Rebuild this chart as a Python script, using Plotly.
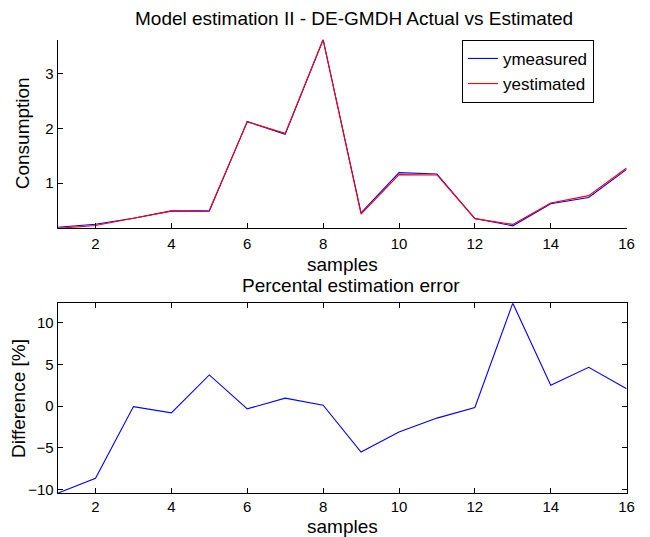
import plotly.graph_objects as go

OFF = 8            # page body margin of the exported html page
S = 650 / 658      # scale between page and photographed picture
W, H = 642, 529

samples = list(range(1, 17))
ymeasured = [0.19, 0.245, 0.355, 0.49, 0.485, 2.125, 1.89, 3.62, 0.455, 1.19,
             1.165, 0.35, 0.217, 0.62, 0.736, 1.25]
yestimated = [0.170, 0.224, 0.355, 0.486, 0.503, 2.118, 1.908, 3.624, 0.43, 1.153,
              1.148, 0.349, 0.244, 0.636, 0.77, 1.276]
error_pct = [-10.45, -8.65, -0.05, -0.8, 3.75, -0.32, 0.96, 0.12, -5.5, -3.1,
             -1.43, -0.16, 12.35, 2.5, 4.66, 2.1]

x_ticks = [2, 4, 6, 8, 10, 12, 14, 16]
y1_ticks = [1, 2, 3]
y2_ticks = [-10, -5, 0, 5, 10]

FONT = "Liberation Sans, Arial, Helvetica, sans-serif"


def px(x):
    return (x / S - OFF) / W


def py(y):
    return 1 - (y / S - OFF) / H


fig = go.Figure()
fig.add_trace(go.Scatter(x=samples, y=ymeasured, mode="lines", name="ymeasured",
                         line=dict(color="#0000ff", width=1.1), xaxis="x", yaxis="y"))
fig.add_trace(go.Scatter(x=samples, y=yestimated, mode="lines", name="yestimated",
                         line=dict(color="#ff0000", width=1.1), xaxis="x", yaxis="y"))
fig.add_trace(go.Scatter(x=samples, y=error_pct, mode="lines", showlegend=False,
                         line=dict(color="#0000ff", width=1.1), xaxis="x2", yaxis="y2"))

xdom = [px(57.5), px(626.7)]
common_axis = dict(showgrid=False, zeroline=False, showline=True, linecolor="black",
                   linewidth=1, ticks="inside", ticklen=5, tickcolor="black",
                   tickwidth=1, tickfont=dict(family=FONT, size=15, color="black"))

fig.update_layout(
    width=W, height=H,
    margin=dict(l=0, r=0, t=0, b=0),
    paper_bgcolor="white", plot_bgcolor="white",
    font=dict(family=FONT, color="black"),
    xaxis=dict(domain=xdom, anchor="y", range=[1, 16], tickvals=x_ticks,
               mirror=False, ticklabelstandoff=2, **common_axis),
    yaxis=dict(domain=[py(227.3), py(39.3)], anchor="x",
               range=[min(yestimated + ymeasured), max(yestimated + ymeasured)],
               tickvals=y1_ticks, mirror=False, **common_axis),
    xaxis2=dict(domain=xdom, anchor="y2", range=[1, 16], tickvals=x_ticks,
                mirror="ticks", ticklabelstandoff=0, **common_axis),
    yaxis2=dict(domain=[py(491), py(301.7)], anchor="x2",
                range=[min(error_pct), max(error_pct)],
                tickvals=y2_ticks, mirror="ticks", **common_axis),
    legend=dict(x=px(462), y=py(71), xanchor="left", yanchor="middle",
                bgcolor="white", bordercolor="black", borderwidth=1,
                font=dict(family=FONT, size=17, color="black"),
                tracegroupgap=0),
    showlegend=True,
)

annotations = [
    dict(text="Model estimation II - DE-GMDH Actual vs Estimated", x=px(354), y=py(18.3),
         size=19),
    dict(text="samples", x=px(342.5), y=py(263), size=19),
    dict(text="Percental estimation error", x=px(351), y=py(284), size=19),
    dict(text="samples", x=px(342.5), y=py(524), size=19),
    dict(text="Consumption", x=px(22.5), y=py(133), size=19, angle=-90),
    dict(text="Difference [%]", x=px(19), y=py(397), size=19, angle=-90),
]
for a in annotations:
    fig.add_annotation(text=a["text"], x=a["x"], y=a["y"], xref="paper", yref="paper",
                       xanchor="center", yanchor="middle", showarrow=False,
                       textangle=a.get("angle", 0),
                       font=dict(family=FONT, size=a["size"], color="black"))

fig.write_html("out.html")
